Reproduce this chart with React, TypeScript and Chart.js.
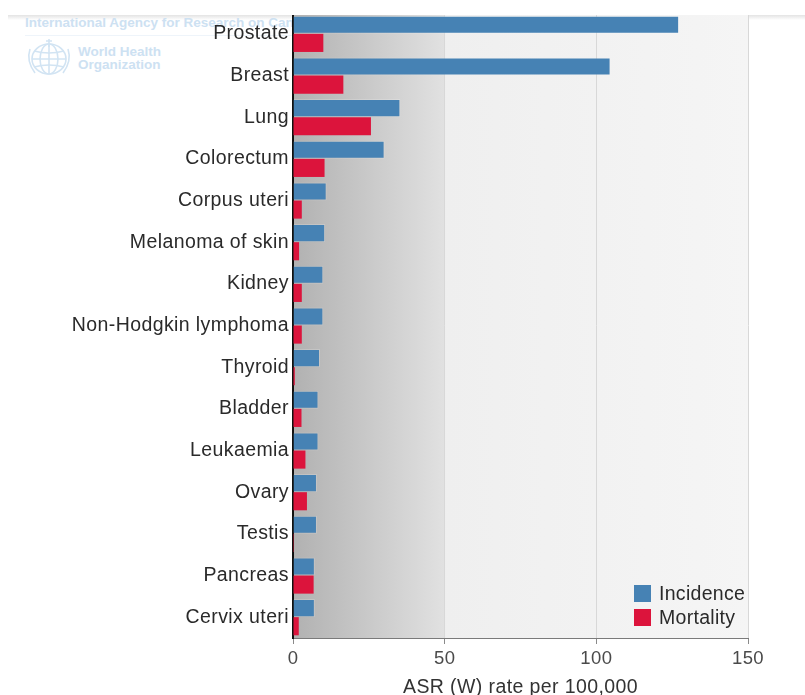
import React, { useEffect, useRef } from "react";
import { Chart, registerables } from "chart.js";

Chart.register(...registerables);

const categories = [
  "Prostate",
  "Breast",
  "Lung",
  "Colorectum",
  "Corpus uteri",
  "Melanoma of skin",
  "Kidney",
  "Non-Hodgkin lymphoma",
  "Thyroid",
  "Bladder",
  "Leukaemia",
  "Ovary",
  "Testis",
  "Pancreas",
  "Cervix uteri",
];
const incidence = [127.3, 104.7, 35.4, 30.2, 11.1, 10.6, 10.0, 10.0, 8.9, 8.4, 8.4, 7.9, 7.9, 7.2, 7.2];
const mortality = [10.0, 16.6, 25.7, 10.4, 2.9, 2.0, 2.9, 2.9, 0.6, 2.8, 4.1, 4.6, 0.3, 6.8, 1.9];
const xTicks = [0, 50, 100, 150];
const seriesNames = ["Incidence", "Mortality"];
const seriesColors = ["#4682b4", "#dc143c"];
const axisTitle = "ASR (W) rate per 100,000";

const FONT = "'Liberation Sans', Arial, sans-serif";

const bgPlugin = {
  id: "plotBg",
  beforeDraw(chart: any) {
    const { ctx, chartArea } = chart;
    const xs = chart.scales.x;
    const x0 = xs.getPixelForValue(0);
    const x50 = xs.getPixelForValue(50);
    const w = chartArea.right - chartArea.left;
    const g = ctx.createLinearGradient(chartArea.left, 0, chartArea.right, 0);
    const p50 = (x50 - chartArea.left) / w;
    const p0 = Math.max(0, (x0 - chartArea.left) / w);
    g.addColorStop(p0, "#b1b1b1");
    g.addColorStop(p50 - 0.002, "#e1e1e1");
    g.addColorStop(p50 + 0.002, "#efefef");
    g.addColorStop(1, "#f5f5f5");
    ctx.save();
    ctx.fillStyle = g;
    ctx.fillRect(chartArea.left, chartArea.top, w, chartArea.bottom - chartArea.top);
    ctx.restore();
    (ctx as any).letterSpacing = "0.4px";
  },
};

const legendPlugin = {
  id: "innerLegend",
  afterDraw(chart: any) {
    const { ctx, chartArea } = chart;
    const size = 17;
    const left = chartArea.right - 114;
    const rowGap = 24;
    const lastBottom = chartArea.bottom - 12;
    const n = chart.data.datasets.length;
    ctx.save();
    (ctx as any).letterSpacing = "0.3px";
    ctx.font = `19.5px ${FONT}`;
    ctx.textBaseline = "middle";
    ctx.textAlign = "left";
    chart.data.datasets.forEach((ds: any, i: number) => {
      const top = lastBottom - size - (n - 1 - i) * rowGap;
      ctx.fillStyle = ds.backgroundColor;
      ctx.fillRect(left, top, size, size);
      ctx.fillStyle = "#2a2a2a";
      ctx.fillText(ds.label, left + size + 8, top + size / 2 + 1);
    });
    ctx.restore();
  },
};

function ChartView() {
  const ref = useRef<HTMLCanvasElement | null>(null);
  useEffect(() => {
    if (!ref.current) return;
    const chart = new Chart(ref.current, {
      type: "bar",
      data: {
        labels: categories,
        datasets: [
          {
            label: seriesNames[0],
            data: incidence,
            backgroundColor: seriesColors[0],
            borderColor: "rgba(255,255,255,0.18)",
            borderWidth: 1,
            categoryPercentage: 0.87,
            barPercentage: 1.0,
          },
          {
            label: seriesNames[1],
            data: mortality,
            backgroundColor: seriesColors[1],
            borderWidth: 0,
            categoryPercentage: 0.87,
            barPercentage: 1.0,
          },
        ],
      },
      options: {
        indexAxis: "y",
        responsive: true,
        maintainAspectRatio: false,
        animation: false,
        events: [],
        layout: { padding: { top: 13, right: 57, left: 0, bottom: 0 } },
        plugins: {
          legend: { display: false },
          tooltip: { enabled: false },
        },
        scales: {
          x: {
            type: "linear",
            min: 0,
            max: 150,
            afterBuildTicks: (s: any) => {
              s.ticks = xTicks.map((v) => ({ value: v }));
            },
            afterFit: (s: any) => {
              s.height = 74;
            },
            grid: {
              color: "#d8d8d8",
              lineWidth: 1,
              drawTicks: true,
              tickLength: 6,
              tickColor: "#8a8a8a",
            },
            border: { display: true, color: "#7a7a7a", width: 1 },
            ticks: {
              padding: 4,
              color: "#4a4a4a",
              maxRotation: 0,
              font: { family: FONT, size: 18.5 },
            },
            title: {
              display: true,
              text: axisTitle,
              color: "#333",
              font: { family: FONT, size: 19.5 },
              padding: { top: 0, bottom: 13 },
            },
          },
          y: {
            type: "category",
            afterFit: (s: any) => {
              s.width = 293;
              s.paddingTop = 0;
              s.paddingBottom = 0;
            },
            grid: { display: false, drawTicks: false, tickLength: 0 },
            border: { display: true, color: "#111", width: 2 },
            ticks: {
              autoSkip: false,
              padding: 4,
              color: "#2a2a2a",
              font: { family: FONT, size: 19.5 },
            },
          },
        },
      },
      plugins: [bgPlugin, legendPlugin],
    } as any);
    return () => chart.destroy();
  }, []);
  return <canvas ref={ref} />;
}

function Emblem() {
  return (
    <svg width="48" height="40" viewBox="0 0 48 40" style={{ position: "absolute", left: 25, top: 39 }}>
      <g fill="none" stroke="#d2e4f3" strokeWidth="1.6">
        <ellipse cx="24" cy="20" rx="17" ry="15" />
        <ellipse cx="24" cy="20" rx="9" ry="15" />
        <line x1="7" y1="20" x2="41" y2="20" />
        <line x1="24" y1="5" x2="24" y2="35" />
        <path d="M9 12 Q24 16 39 12" />
        <path d="M9 28 Q24 24 39 28" />
        <path d="M5 10 Q1 22 10 34" />
        <path d="M43 10 Q47 22 38 34" />
        <path d="M21 2 L27 2 M24 0 L24 8" />
      </g>
    </svg>
  );
}

export default function App() {
  const wm = "#cde1f2";
  return (
    <div
      style={{
        position: "absolute",
        left: 0,
        top: 0,
        width: 805,
        height: 695,
        overflow: "hidden",
        background: "#fff",
      }}
    >
      <div
        style={{
          position: "absolute",
          left: 8,
          right: 0,
          top: 14,
          height: 6,
          background: "linear-gradient(#dedede, #ffffff)",
        }}
      />
      <div
        style={{
          position: "absolute",
          left: 25,
          top: 15,
          fontFamily: FONT,
          fontWeight: "bold",
          fontSize: 13.5,
          color: wm,
          whiteSpace: "nowrap",
        }}
      >
        International Agency for Research on Cancer
      </div>
      <div style={{ position: "absolute", left: 25, top: 35, width: 270, height: 1, background: "#eef4fa" }} />
      <Emblem />
      <div
        style={{
          position: "absolute",
          left: 78,
          top: 45,
          fontFamily: FONT,
          fontWeight: "bold",
          fontSize: 13.5,
          lineHeight: "13px",
          color: wm,
          whiteSpace: "nowrap",
        }}
      >
        World Health
        <br />
        Organization
      </div>
      <div style={{ position: "absolute", left: 0, top: 0, width: 805, height: 712 }}>
        <ChartView />
      </div>
      <div style={{ position: "absolute", left: 0, top: 0, width: 805, height: 14.5, background: "#fff" }} />
    </div>
  );
}
